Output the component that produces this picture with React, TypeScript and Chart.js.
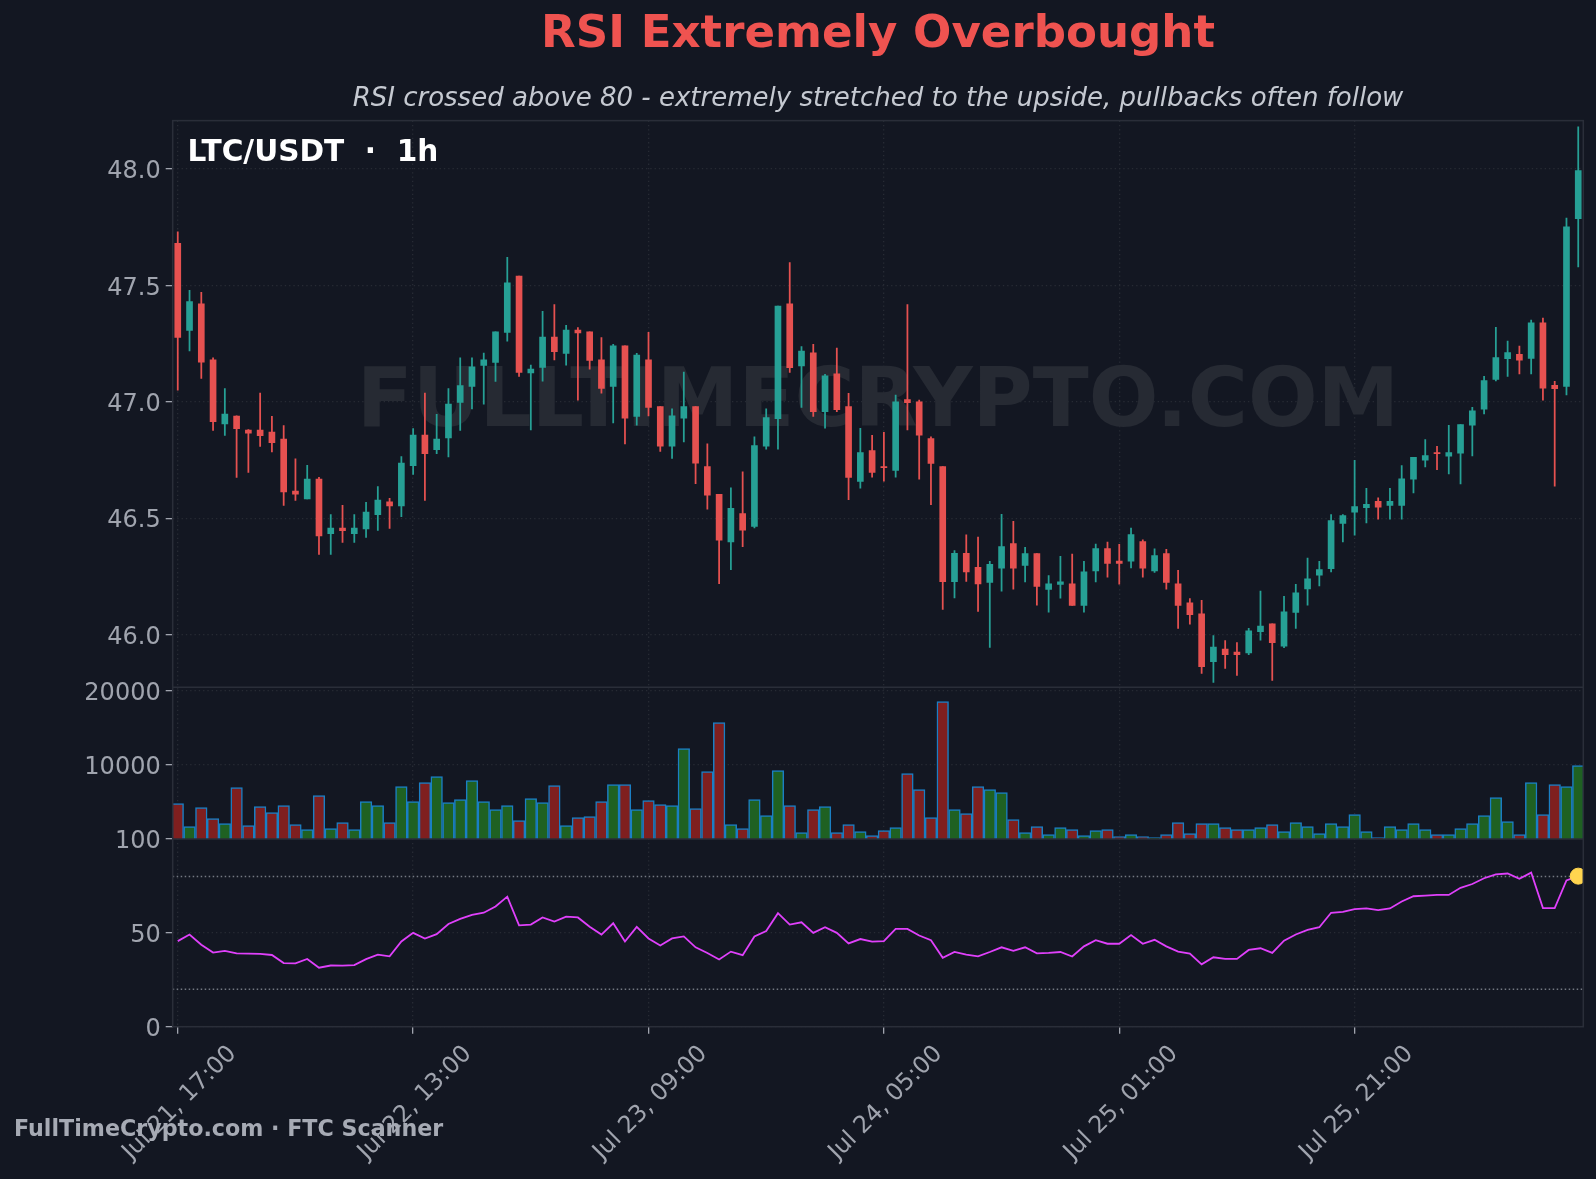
import React, { useEffect, useRef } from "react";
import { Chart, registerables } from "chart.js";

Chart.register(...registerables);

const opens = [47.68,47.306,47.42,47.18,46.905,46.938,46.878,46.878,46.87,46.84,46.616,46.583,46.668,46.433,46.457,46.433,46.454,46.515,46.57,46.553,46.725,46.857,46.794,46.845,46.997,47.066,47.156,47.169,47.298,47.54,47.124,47.147,47.278,47.207,47.308,47.30,47.18,47.066,47.24,46.937,47.18,46.979,46.809,46.929,46.979,46.722,46.602,46.398,46.52,46.465,46.809,46.927,47.42,47.154,47.21,46.957,47.12,46.979,46.658,46.79,46.722,46.705,47.009,47.0,46.842,46.722,46.227,46.349,46.289,46.224,46.285,46.391,46.297,46.348,46.194,46.216,46.218,46.125,46.274,46.369,46.316,46.315,46.4,46.274,46.348,46.218,46.137,46.089,45.884,45.938,45.925,45.921,46.013,46.046,45.951,46.095,46.196,46.255,46.283,46.478,46.526,46.545,46.572,46.555,46.555,46.667,46.749,46.782,46.766,46.779,46.899,46.968,47.096,47.185,47.203,47.186,47.339,47.07,47.066,47.786];
const highs = [47.73,47.478,47.47,47.188,47.057,46.94,46.88,47.037,46.937,46.898,46.755,46.727,46.675,46.515,46.555,46.515,46.568,46.636,46.585,46.765,46.885,47.037,46.946,47.057,47.188,47.188,47.209,47.30,47.62,47.54,47.157,47.388,47.417,47.328,47.318,47.30,47.275,47.247,47.24,47.208,47.298,46.979,46.969,47.127,46.979,46.819,46.602,46.63,46.699,46.849,46.969,47.411,47.598,47.237,47.247,47.118,47.23,47.036,46.886,46.856,46.869,47.029,47.417,47.007,46.849,46.722,46.361,46.428,46.419,46.315,46.517,46.487,46.375,46.348,46.254,46.336,46.346,46.315,46.389,46.397,46.388,46.458,46.407,46.368,46.366,46.276,46.155,46.147,45.996,45.974,45.966,46.027,46.187,46.046,46.164,46.216,46.329,46.315,46.516,46.516,46.748,46.628,46.587,46.628,46.726,46.761,46.838,46.808,46.899,46.902,46.976,47.109,47.319,47.26,47.239,47.351,47.359,47.088,47.789,48.18];
const lows = [47.05,47.218,47.10,46.877,46.855,46.675,46.696,46.808,46.785,46.555,46.576,46.583,46.344,46.344,46.396,46.396,46.417,46.447,46.456,46.506,46.688,46.576,46.777,46.763,46.877,46.969,46.99,47.087,47.26,47.109,46.879,47.088,47.18,47.157,47.007,47.14,47.037,46.909,46.819,46.899,46.939,46.787,46.757,46.827,46.648,46.539,46.219,46.279,46.378,46.458,46.796,46.796,47.126,46.976,46.937,46.886,46.957,46.579,46.629,46.676,46.659,46.676,46.879,46.668,46.558,46.108,46.158,46.228,46.1,45.945,46.187,46.195,46.226,46.126,46.096,46.157,46.125,46.096,46.226,46.247,46.217,46.286,46.247,46.267,46.195,46.027,46.045,45.833,45.795,45.855,45.825,45.914,45.976,45.803,45.944,46.027,46.127,46.209,46.269,46.398,46.427,46.48,46.496,46.496,46.496,46.608,46.72,46.708,46.69,46.647,46.767,46.948,47.089,47.109,47.119,47.119,47.007,46.637,47.029,47.579];
const closes = [47.276,47.43,47.17,46.914,46.947,46.884,46.865,46.854,46.824,46.613,46.603,46.668,46.424,46.457,46.446,46.457,46.526,46.578,46.553,46.737,46.857,46.777,46.84,46.99,47.069,47.15,47.18,47.30,47.51,47.126,47.14,47.278,47.215,47.308,47.295,47.177,47.057,47.24,46.929,47.2,46.976,46.809,46.94,46.979,46.736,46.599,46.406,46.542,46.448,46.812,46.932,47.411,47.146,47.218,46.957,47.111,46.966,46.675,46.782,46.696,46.717,47.0,46.996,46.856,46.735,46.227,46.349,46.269,46.218,46.302,46.378,46.285,46.348,46.207,46.218,46.227,46.125,46.27,46.369,46.306,46.306,46.43,46.285,46.339,46.224,46.125,46.086,45.862,45.947,45.914,45.914,46.016,46.037,45.966,46.098,46.18,46.24,46.279,46.49,46.511,46.55,46.559,46.547,46.572,46.669,46.761,46.769,46.777,46.782,46.902,46.961,47.091,47.19,47.211,47.178,47.339,47.058,47.056,47.751,47.993];
const volumes = [4770,1665,4230,2745,2070,6930,1800,4365,3555,4500,1935,1260,5850,1395,2205,1260,5040,4500,2205,7065,5040,7605,8415,4905,5310,7875,5040,3960,4500,2475,5445,4905,7200,1800,2880,3015,5040,7335,7335,3960,5175,4635,4500,12195,4095,9090,15705,1935,1395,5310,3150,9225,4500,855,3960,4365,855,1935,990,450,1125,1530,8820,6660,2880,18540,3960,3420,7065,6660,6255,2610,855,1665,585,1530,1260,450,1125,1260,315,585,315,180,585,2205,720,2070,2070,1530,1260,1260,1530,1935,990,2205,1665,720,2070,1665,3285,990,180,1665,1260,2070,1260,585,585,1395,2070,3150,5580,2340,585,7605,3285,7335,7065,9900];
const rsiValues = [45.6,49.1,43.7,39.5,40.4,39.1,38.9,38.8,38.2,33.9,33.7,36.1,31.4,32.6,32.5,32.8,36,38.4,37.5,45.4,50,47,49.3,54.7,57.4,59.6,60.7,64,69.3,54,54.4,58.2,56,58.6,58.2,53.3,49.1,55.1,45.4,53.2,47,43.3,47,48.1,42.3,39.3,35.8,40,38.1,48.1,51,60.5,54.4,55.6,50,53,50,44.4,46.7,45.3,45.6,52.1,52.1,48.6,46.1,36.7,39.8,38.4,37.5,39.8,42.3,40.4,42.3,39.1,39.3,39.8,37.4,42.8,46.1,44.2,44.2,48.8,44.2,46.3,42.8,40,38.9,33.2,37,36.1,36.1,40.9,41.8,39.3,45.8,49.1,51.6,53,60.7,61.2,62.6,63,62.1,63,66.7,69.5,69.8,70.2,70.2,74,76,79.1,81.2,81.6,78.8,82.1,63.2,63.2,77.9,80.2];

const xTickPositions = [0, 20, 40, 60, 80, 100];
const xTickLabels = ["Jul 21, 17:00", "Jul 22, 13:00", "Jul 23, 09:00", "Jul 24, 05:00", "Jul 25, 01:00", "Jul 25, 21:00"];
const priceTicks = [46, 46.5, 47, 47.5, 48];
const volumeTicks = [10000, 20000];
const rsiTicks = [0, 50, 100];
const rsiLevels = [80, 20];

const TITLE = "RSI Extremely Overbought";
const SUBTITLE = "RSI crossed above 80 - extremely stretched to the upside, pullbacks often follow";
const WATERMARK = "FULLTIMECRYPTO.COM";
const PAIR_LABEL = "LTC/USDT  ·  1h";
const FOOTER = "FullTimeCrypto.com · FTC Scanner";

const FONT = "'DejaVu Sans'";
const BG = "#131722";
const SPINE = "#2a2e39";
const GRID = "#272b34";
const TICK_TEXT = "#a0a4ae";
const UP = "#26a095";
const DOWN = "#e65150";
const VOL_UP = "#1f6122";
const VOL_DOWN = "#7f1f1f";
const VOL_EDGE = "#1a7fc4";

const isDown = (i: number) => closes[i] < opens[i];
const X_MIN = -0.43;
const X_MAX = 119.43;

const yBase = (ticks: number[], fmt: (v: number) => string) => ({
  type: "linear" as const,
  position: "left" as const,
  stack: "panels",
  border: { display: false, dash: [1.3, 3] },
  grid: { color: GRID, lineWidth: 1.3, tickLength: 7, tickColor: TICK_TEXT, tickWidth: 1.3, tickBorderDash: [] },
  ticks: {
    color: TICK_TEXT,
    font: { family: FONT, size: 24 },
    padding: 5,
    labelOffset: 3,
    autoSkip: false,
    callback: (v: any) => fmt(Number(v)),
  },
  afterBuildTicks: (s: any) => { s.ticks = ticks.map((value) => ({ value })); },
  afterFit: (s: any) => { s.width = 172.7; },
});

const panelText = {
  id: "panelText",
  beforeDatasetsDraw(chart: any) {
    const { ctx } = chart;
    const { left, right } = chart.chartArea;
    const main = chart.scales.y;
    ctx.save();
    ctx.fillStyle = "#262a33";
    ctx.font = `bold 82px ${FONT}`;
    ctx.textAlign = "center";
    ctx.textBaseline = "middle";
    ctx.fillText(WATERMARK, (left + right) / 2, main.getPixelForValue(46.989));
    ctx.restore();
  },
  afterDatasetsDraw(chart: any) {
    const { ctx } = chart;
    const { left, right, bottom } = chart.chartArea;
    const { y, yv, yr } = chart.scales;
    ctx.save();
    ctx.strokeStyle = SPINE;
    ctx.lineWidth = 1.5;
    ctx.strokeRect(left, y.top, right - left, bottom - y.top);
    [yv.top, yr.top].forEach((py: number) => {
      ctx.beginPath();
      ctx.moveTo(left, py);
      ctx.lineTo(right, py);
      ctx.stroke();
    });
    ctx.fillStyle = "#ffffff";
    ctx.font = `bold 29.6px ${FONT}`;
    ctx.textAlign = "left";
    ctx.textBaseline = "middle";
    ctx.fillText(PAIR_LABEL, 187.5, 153);
    ctx.restore();
  },
  afterDraw(chart: any) {
    const { ctx } = chart;
    ctx.save();
    ctx.fillStyle = "#a6aab4";
    ctx.font = `bold 22.2px ${FONT}`;
    ctx.textAlign = "left";
    ctx.textBaseline = "middle";
    ctx.fillText(FOOTER, 14, 1130);
    ctx.restore();
  },
};

export default function App() {
  const ref = useRef<HTMLCanvasElement | null>(null);
  useEffect(() => {
    if (!ref.current) return;
    const idx = opens.map((_, i) => i);
    const chart = new Chart(ref.current, {
      type: "bar",
      data: {
        datasets: [
          {
            type: "scatter",
            label: "RSI now",
            yAxisID: "yr",
            data: [{ x: idx[idx.length - 1], y: rsiValues[rsiValues.length - 1] }],
            backgroundColor: "#ffd54f",
            borderColor: "#ffd54f",
            pointRadius: 8,
            clip: 0,
            order: 0,
          },
          {
            type: "line",
            label: "RSI",
            yAxisID: "yr",
            data: idx.map((i) => ({ x: i, y: rsiValues[i] })),
            borderColor: "#e040fb",
            borderWidth: 1.8,
            pointRadius: 0,
            tension: 0,
            order: 1,
          },
          ...rsiLevels.map((level) => ({
            type: "line" as const,
            label: `RSI ${level}`,
            yAxisID: "yr",
            data: [{ x: X_MIN, y: level }, { x: X_MAX, y: level }],
            borderColor: "#747982",
            borderWidth: 1.5,
            borderDash: [1.5, 2.5],
            pointRadius: 0,
            order: 2,
          })),
          {
            type: "bar",
            label: "Body",
            yAxisID: "y",
            grouped: false,
            barThickness: 6,
            data: idx.map((i) => ({ x: i, y: [opens[i], closes[i]] })),
            backgroundColor: idx.map((i) => (isDown(i) ? DOWN : UP)),
            order: 3,
          },
          {
            type: "bar",
            label: "Wick",
            yAxisID: "y",
            grouped: false,
            barThickness: 1.1,
            data: idx.map((i) => ({ x: i, y: [lows[i], highs[i]] })),
            backgroundColor: idx.map((i) => (isDown(i) ? DOWN : UP)),
            order: 4,
          },
          {
            type: "bar",
            label: "Volume",
            yAxisID: "yv",
            grouped: false,
            barThickness: 11.6,
            data: idx.map((i) => ({ x: i, y: volumes[i] })),
            backgroundColor: idx.map((i) => (isDown(i) ? VOL_DOWN : VOL_UP)),
            borderColor: VOL_EDGE,
            borderWidth: 1.5,
            borderSkipped: "bottom",
            order: 5,
          },
        ] as any,
      },
      options: {
        responsive: false,
        animation: false,
        devicePixelRatio: 1,
        layout: { padding: { left: 0, right: 12.7, top: 0, bottom: 0 } },
        plugins: {
          legend: { display: false },
          tooltip: { enabled: false },
          title: {
            display: true,
            text: TITLE,
            fullSize: false,
            color: "#ef5350",
            font: { family: FONT, size: 45.1, weight: "bold", lineHeight: 1.2 },
            padding: { top: 8.5, bottom: 10 },
          },
          subtitle: {
            display: true,
            text: SUBTITLE,
            fullSize: false,
            color: "#c5c9d1",
            font: { family: FONT, size: 26, style: "italic", lineHeight: 1.2 },
            padding: { top: 11.2, bottom: 5.6 },
          },
        } as any,
        scales: {
          x: {
            type: "linear",
            min: X_MIN,
            max: X_MAX,
            offset: false,
            border: { display: false, dash: [1.3, 3] },
            grid: { offset: false, color: GRID, lineWidth: 1.3, tickLength: 7, tickColor: TICK_TEXT, tickWidth: 1.3, tickBorderDash: [] },
            ticks: {
              color: TICK_TEXT,
              font: { family: FONT, size: 23.7 },
              maxRotation: 45,
              minRotation: 45,
              autoSkip: false,
              padding: 6.5,
              labelOffset: 55,
              callback: (v: any) => {
                const k = xTickPositions.indexOf(Number(v));
                return k >= 0 ? xTickLabels[k] : "";
              },
            },
            afterBuildTicks: (s: any) => { s.ticks = xTickPositions.map((value) => ({ value })); },
            afterFit: (s: any) => { s.height = 152.3; },
          },
          yr: { ...yBase(rsiTicks, (v) => String(v)), min: 0, max: 100, stackWeight: 187.7 },
          yv: { ...yBase(volumeTicks, (v) => String(v)), min: 0, max: 20460, stackWeight: 151.7 },
          y: { ...yBase(priceTicks, (v) => v.toFixed(1)), min: 45.774, max: 48.207, stackWeight: 566.6 },
        } as any,
      },
      plugins: [panelText],
    });
    return () => chart.destroy();
  }, []);
  return (
    <canvas
      ref={ref}
      width={1596}
      height={1179}
      style={{ position: "fixed", left: 0, top: 0, width: 1596, height: 1179, background: BG, display: "block" }}
    />
  );
}
